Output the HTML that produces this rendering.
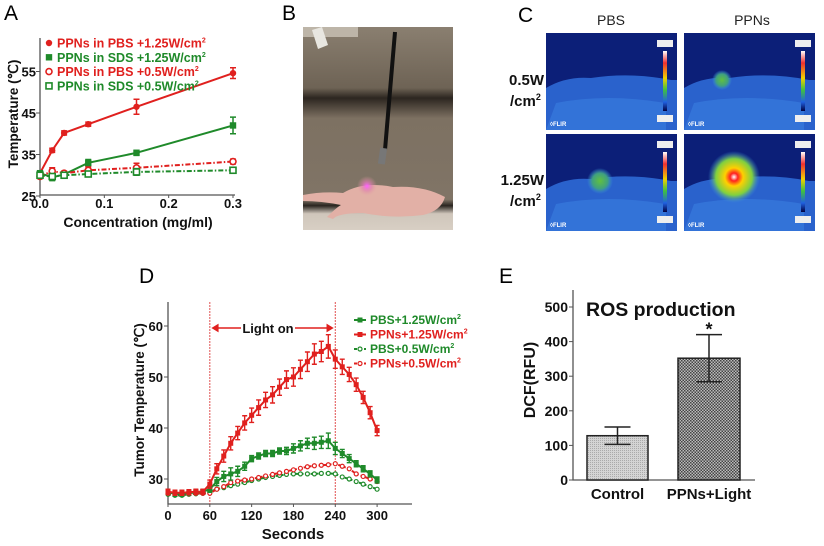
<!DOCTYPE html>
<html><head><meta charset="utf-8"><style>
html,body{margin:0;padding:0;background:#fff;width:824px;height:546px;overflow:hidden}
svg{display:block;font-family:"Liberation Sans",Arial,sans-serif;font-size:13px}
.t{font-weight:bold;fill:#111}
</style></head><body>
<svg id="fig" width="824" height="546" viewBox="0 0 824 546">
<defs>
<pattern id="chk" width="3" height="3" patternUnits="userSpaceOnUse"><rect width="3" height="3" fill="#bbb"/><rect width="1.5" height="1.5" fill="#444"/><rect x="1.5" y="1.5" width="1.5" height="1.5" fill="#444"/></pattern>
<pattern id="dots" width="2" height="2" patternUnits="userSpaceOnUse"><rect width="2" height="2" fill="#d4d4d4"/><rect width="1" height="1" fill="#aaa"/></pattern>
<linearGradient id="wall" x1="0" y1="0" x2="0" y2="1"><stop offset="0" stop-color="#8a7f70"/><stop offset="0.3" stop-color="#6e6355"/><stop offset="0.35" stop-color="#2c2620"/><stop offset="0.45" stop-color="#7d7162"/><stop offset="0.85" stop-color="#807466"/><stop offset="0.88" stop-color="#2a2520"/><stop offset="0.92" stop-color="#cfc6bb"/><stop offset="1" stop-color="#d8cfc4"/></linearGradient>
<radialGradient id="hot1"><stop offset="0" stop-color="#ffffff"/><stop offset="0.15" stop-color="#ff2020"/><stop offset="0.35" stop-color="#ffd000"/><stop offset="0.7" stop-color="#7fd040"/><stop offset="1" stop-color="#3a8ee0" stop-opacity="0"/></radialGradient>
<radialGradient id="warm"><stop offset="0" stop-color="#60c040"/><stop offset="0.6" stop-color="#40a080"/><stop offset="1" stop-color="#3a8ee0" stop-opacity="0"/></radialGradient>
<linearGradient id="cbar" x1="0" y1="0" x2="0" y2="1"><stop offset="0" stop-color="#fff"/><stop offset="0.2" stop-color="#f03030"/><stop offset="0.45" stop-color="#f0d000"/><stop offset="0.65" stop-color="#40c040"/><stop offset="0.85" stop-color="#2060e0"/><stop offset="1" stop-color="#000040"/></linearGradient>
<radialGradient id="pink"><stop offset="0" stop-color="#ff60ff"/><stop offset="0.5" stop-color="#e080b0" stop-opacity="0.6"/><stop offset="1" stop-color="#e0a0a0" stop-opacity="0"/></radialGradient>
</defs>
<g id="A"></g>
<g id="B"></g>
<g id="C"></g>
<g id="D"></g>
<g id="E"></g>
</svg>
<script>
// Panel A data
const concX = [0, 0.019, 0.0375, 0.075, 0.15, 0.3];
const aRedHigh = [30.5, 36, 40.2, 42.3, 46.5, 54.6];
const aRedHighErr = [0.5, 0.5, 0.5, 0.5, 1.8, 1.3];
const aGreenHigh = [30.5, 29.5, 30.2, 33, 35.4, 42];
const aGreenHighErr = [0.5, 0.8, 0.5, 0.8, 0.6, 2];
const aRedLow = [29.7, 31, 30.5, 31.2, 31.8, 33.3];
const aRedLowErr = [0.5, 0.8, 0.5, 0.8, 1.1, 0.6];
const aGreenLow = [30, 29.7, 30, 30.3, 30.8, 31.2];
const aGreenLowErr = [0.5, 0.5, 0.5, 0.5, 0.8, 0.5];
const aXTicks = [0, 0.1, 0.2, 0.3];
const aXTickLabels = ["0.0", "0.1", "0.2", "0.3"];
const aYTicks = [25, 35, 45, 55];
const aLegend = ["PPNs in PBS +1.25W/cm", "PPNs in SDS +1.25W/cm", "PPNs in PBS +0.5W/cm", "PPNs in SDS +0.5W/cm"];
// Panel D data
const dTime = [0,10,20,30,40,50,60,70,80,90,100,110,120,130,140,150,160,170,180,190,200,210,220,230,240,250,260,270,280,290,300];
const dRedHigh = [27.5,27.3,27.3,27.4,27.5,27.5,29,32,34.5,37,39,41,42.5,44,45.5,46.5,48,49.5,50,51.5,53,54.5,55,56,53.5,52,50.5,48.5,46,43,39.5];
const dRedHighErr = [0.5,0.5,0.5,0.5,0.5,0.5,0.8,1,1.2,1.3,1.3,1.4,1.4,1.5,1.5,1.6,1.6,1.7,1.8,1.8,1.9,2,2,2.3,1.8,1.5,1.4,1.3,1.2,1.2,1];
const dGreenHigh = [27.5,27,27,27.2,27.4,27.5,28,29.5,30.5,31,31.5,32.5,34,34.5,35,35,35.5,35.5,36,36.5,37,37,37.2,37.5,36,35,34,33,32,31,29.8];
const dGreenHighErr = [0.4,0.4,0.4,0.4,0.4,0.4,0.6,0.8,1,1.2,1,0.8,0.6,0.6,0.6,0.6,0.6,0.7,0.9,1,1,1.2,1.2,1.5,1.2,0.8,0.8,0.6,0.6,0.6,0.6];
const dRedLow = [27.2,27,27,27.1,27.2,27.2,27.2,28,28.5,29.3,29.6,29.8,30,30.3,30.6,30.9,31.2,31.5,31.8,32.1,32.4,32.6,32.7,32.8,33,32.5,32,31,30.5,30,29.5];
const dGreenLow = [27,26.8,26.8,27,27.1,27.2,27.5,28,28.3,28.7,29,29.3,29.7,30,30.3,30.5,30.7,30.9,31,31,31,31,31.1,31.1,31,30.4,30,29.5,29,28.5,28];
const dXTicks = [0,60,120,180,240,300];
const dYTicks = [30,40,50,60];
const dLegend = ["PBS+1.25W/cm", "PPNs+1.25W/cm", "PBS+0.5W/cm", "PPNs+0.5W/cm"];
// Panel E data
const eCats = ["Control", "PPNs+Light"];
const eVals = [128, 352];
const eErr = [25, 68];
const eYTicks = [0,100,200,300,400,500];

const NS = "http://www.w3.org/2000/svg";
function mk(tag, attrs, parent, txt){const e=document.createElementNS(NS,tag);for(const k in attrs)e.setAttribute(k,attrs[k]);if(txt!==undefined)e.textContent=txt;parent.appendChild(e);return e;}
const RED="#e0201e", GREEN="#1f8a2a";

function marker(g, kind, x, y, col){
  let m;
  if(kind==="circ") m=mk("circle",{cx:x,cy:y,r:3.2,fill:col},g);
  else if(kind==="sq") m=mk("rect",{x:x-3.2,y:y-3.2,width:6.4,height:6.4,fill:col},g);
  else if(kind==="ocirc") m=mk("circle",{cx:x,cy:y,r:3,fill:"#fff",stroke:col,"stroke-width":1.6},g);
  else m=mk("rect",{x:x-3,y:y-3,width:6,height:6,fill:"#fff",stroke:col,"stroke-width":1.6},g);
  return m;
}

// ---------- Panel A ----------
(function(){
  const g=document.getElementById("A");
  const X=v=>40+v/0.3*193, Y=v=>196-(v-25)*4.15;
  let t=mk("text",{x:4,y:20,"font-size":21},g,"A");
  
  
  let ax=mk("path",{d:"M40 38 V195 H235",fill:"none",stroke:"#555","stroke-width":1.3},g);
  
  
  aYTicks.forEach(v=>{mk("line",{x1:36,x2:40,y1:Y(v),y2:Y(v),stroke:"#555"},g);
    const l=mk("text",{x:36,y:Y(v)+5,"text-anchor":"end",class:"t","font-size":13},g,v);
    
    });
  aXTicks.forEach((v,i)=>{mk("line",{x1:X(v),x2:X(v),y1:195,y2:198,stroke:"#555"},g);
    const l=mk("text",{x:X(v),y:208,"text-anchor":"middle",class:"t","font-size":13},g,aXTickLabels[i]);
    
    });
  t=mk("text",{x:138,y:227,"text-anchor":"middle",class:"t","font-size":14},g,"Concentration (mg/ml)");
  
  
  t=mk("text",{transform:"translate(18,114) rotate(-90)","text-anchor":"middle",class:"t","font-size":13.5},g,"Temperature (℃)");
  
  
  const series=[[aRedHigh,aRedHighErr,RED,"circ",""],[aGreenHigh,aGreenHighErr,GREEN,"sq",""],[aRedLow,aRedLowErr,RED,"ocirc","5,2,1.5,2"],[aGreenLow,aGreenLowErr,GREEN,"osq","5,2,1.5,2"]];
  series.forEach((s,si)=>{
    const sg=mk("g",{},g);
    
    
    const pts=concX.map((c,i)=>X(c)+","+Y(s[0][i])).join(" ");
    const pl=mk("polyline",{points:pts,fill:"none",stroke:s[2],"stroke-width":2,"stroke-dasharray":s[4]},sg);
    
    
    concX.forEach((c,i)=>{
      const x=X(c),y1=Y(s[0][i]+s[1][i]),y2=Y(s[0][i]-s[1][i]);
      mk("path",{d:`M${x} ${y1}V${y2}M${x-3} ${y1}H${x+3}M${x-3} ${y2}H${x+3}`,stroke:s[2],"stroke-width":1.5},sg);
      const m=marker(sg,s[3],x,Y(s[0][i]),s[2]);
      
      
    });
    const ly=43+si*14.3;
    const lm=marker(sg,s[3],49,ly,s[2]);
    
    
    const lt=mk("text",{x:57,y:ly+4.5,fill:s[2],"font-weight":"bold","font-size":12.5},sg,aLegend[si]);
    mk("tspan",{dy:-5,"font-size":7},lt,"2");
    
    
  });
})();

// ---------- Panel B (photo) ----------
(function(){
  const g=document.getElementById("B");
  let t=mk("text",{x:282,y:20,"font-size":21},g,"B");
  
  
  let r=mk("rect",{x:303,y:27,width:150,height:203,fill:"url(#wall)"},g);
  
  
  mk("path",{d:"M303 27 h55 v10 h-55z",fill:"#bdb5a8"},g);
  mk("path",{d:"M312 30 l10 -3 l6 18 l-10 4z",fill:"#e8e6e0"},g);
  mk("path",{d:"M395 32 L385 150",stroke:"#111","stroke-width":4,fill:"none"},g);
  mk("rect",{x:379,y:148,width:7,height:16,fill:"#777",transform:"rotate(8 382 156)"},g);
  mk("path",{d:"M303 195 q20 -4 40 -2 q20 -12 50 -6 q30 -2 52 10 q-4 14 -22 18 q-30 4 -60 -2 q-25 0 -30 6 l-6 -2 q10 -10 14 -12 q-20 -4 -38 -4z",fill:"#e2b0a6"},g);
  mk("circle",{cx:367,cy:186,r:10,fill:"url(#pink)"},g);
})();

// ---------- Panel C (thermal) ----------
(function(){
  const g=document.getElementById("C");
  let t=mk("text",{x:518,y:22,"font-size":21},g,"C");
  
  
  [["PBS",611],["PPNs",752]].forEach(c=>{const l=mk("text",{x:c[1],y:25,"text-anchor":"middle","font-size":14,fill:"#222"},g,c[0]);
    
    });
  [[85,"0.5W"],[185,"1.25W"]].forEach(r=>{
    const l=mk("text",{x:544,y:r[0],"text-anchor":"end",class:"t","font-size":15},g,r[1]);
    
    
    const l2=mk("text",{x:510,y:r[0]+21,class:"t","font-size":15},g,"/cm");
    mk("tspan",{dy:-6,"font-size":9},l2,"2");
  });
  const cells=[[546,33,null],[684,33,"warm",722,80,10],[546,134,"warm",600,181,13],[684,134,"hot1",734,177,26]];
  cells.forEach((c,i)=>{
    const cg=mk("g",{},g);
    
    
    mk("rect",{x:c[0],y:c[1],width:131,height:97,fill:"#0c1f78"},cg);
    const bx=c[0],by=c[1];
    mk("path",{d:`M${bx} ${by+55} q20 -12 45 -10 q40 -6 80 2 l6 0 v50 h-131z`,fill:"#2a62cc"},cg);
    mk("path",{d:`M${bx+10} ${by+70} q50 -10 110 0 v27 h-120z`,fill:"#3a7ee0",opacity:0.6},cg);
    if(c[2]) mk("circle",{cx:c[3],cy:c[4],r:c[5],fill:`url(#${c[2]})`},cg);
    mk("rect",{x:bx+117,y:by+18,width:4,height:60,fill:"url(#cbar)"},cg);
    mk("rect",{x:bx+111,y:by+7,width:16,height:7,fill:"#eee"},cg);
    mk("rect",{x:bx+111,y:by+82,width:16,height:7,fill:"#eee"},cg);
    mk("text",{x:bx+4,y:by+93,"font-size":6,"font-weight":"bold",fill:"#fff"},cg,"◊FLIR");
  });
})();

// ---------- Panel D ----------
(function(){
  const g=document.getElementById("D");
  const X=v=>168+v*0.697, Y=v=>479-(v-30)*5.1;
  let t=mk("text",{x:139,y:283,"font-size":21},g,"D");
  
  
  let ax=mk("path",{d:"M168 302 V504 H412",fill:"none",stroke:"#555","stroke-width":1.3},g);
  
  
  dYTicks.forEach(v=>{mk("line",{x1:164,x2:168,y1:Y(v),y2:Y(v),stroke:"#555"},g);
    const l=mk("text",{x:163,y:Y(v)+5,"text-anchor":"end",class:"t","font-size":13},g,v);
    
    });
  dXTicks.forEach(v=>{mk("line",{x1:X(v),x2:X(v),y1:504,y2:507,stroke:"#555"},g);
    const l=mk("text",{x:X(v),y:520,"text-anchor":"middle",class:"t","font-size":13},g,v);
    
    });
  t=mk("text",{x:293,y:539,"text-anchor":"middle",class:"t","font-size":15},g,"Seconds");
  
  
  t=mk("text",{transform:"translate(144,400) rotate(-90)","text-anchor":"middle",class:"t","font-size":13.5},g,"Tumor Temperature (℃)");
  
  
  [60,240].forEach(v=>{const l=mk("line",{x1:X(v),x2:X(v),y1:302,y2:504,stroke:"#e05050","stroke-width":1,"stroke-dasharray":"2,1"},g);
    
    });
  const ar=mk("path",{d:`M${X(60)+3} 328 H241 M295 328 H${X(240)-3} M${X(60)+3} 328 l5 -3 v6z M${X(240)-3} 328 l-5 -3 v6z`,stroke:RED,"stroke-width":1.5,fill:RED},g);
  
  
  t=mk("text",{x:268,y:333,"text-anchor":"middle",class:"t","font-size":13},g,"Light on");
  
  
  const series=[[dGreenLow,null,GREEN,"ocirc","3,2"],[dRedLow,null,RED,"osq","3,2"],[dGreenHigh,dGreenHighErr,GREEN,"sq",""],[dRedHigh,dRedHighErr,RED,"circ",""]];
  const legOrder=[2,3,0,1];
  series.forEach((s,si)=>{
    const sg=mk("g",{},g);
    
    
    const pl=mk("polyline",{points:dTime.map((tt,i)=>X(tt)+","+Y(s[0][i])).join(" "),fill:"none",stroke:s[2],"stroke-width":2,"stroke-dasharray":s[4]},sg);
    
    
    dTime.forEach((tt,i)=>{
      const x=X(tt),y=Y(s[0][i]);
      if(s[1]){const y1=Y(s[0][i]+s[1][i]),y2=Y(s[0][i]-s[1][i]);
        mk("path",{d:`M${x} ${y1}V${y2}M${x-2.5} ${y1}H${x+2.5}M${x-2.5} ${y2}H${x+2.5}`,stroke:s[2],"stroke-width":1.4},sg);}
      let m;
      if(s[3]==="circ"||s[3]==="sq") m=mk("rect",{x:x-2.5,y:y-2.5,width:5,height:5,fill:s[2]},sg);
      else m=mk("circle",{cx:x,cy:y,r:2,fill:"#fff",stroke:s[2],"stroke-width":1.2},sg);
      
      
    });
  });
  dLegend.forEach((name,i)=>{
    const s=series[legOrder[i]], ly=320+i*14.5;
    const lg=mk("g",{},g);
    
    
    mk("line",{x1:354,x2:366,y1:ly,y2:ly,stroke:s[2],"stroke-width":2,"stroke-dasharray":s[4]},lg);
    if(s[1]) mk("rect",{x:357.5,y:ly-2.5,width:5,height:5,fill:s[2]},lg);
    else mk("circle",{cx:360,cy:ly,r:2,fill:"#fff",stroke:s[2],"stroke-width":1.2},lg);
    const lt=mk("text",{x:370,y:ly+4,fill:s[2],"font-weight":"bold","font-size":12},lg,name);
    mk("tspan",{dy:-5,"font-size":7},lt,"2");
  });
})();

// ---------- Panel E ----------
(function(){
  const g=document.getElementById("E");
  const Y=v=>480-v*0.346;
  const barX=[587,678], barW=[61,62];
  let t=mk("text",{x:499,y:283,"font-size":21},g,"E");
  
  
  let ax=mk("path",{d:"M573 290 V480 H755",fill:"none",stroke:"#555","stroke-width":1.3},g);
  
  
  eYTicks.forEach(v=>{mk("line",{x1:569,x2:573,y1:Y(v),y2:Y(v),stroke:"#555"},g);
    const l=mk("text",{x:568,y:Y(v)+5,"text-anchor":"end",class:"t","font-size":14},g,v);
    
    });
  t=mk("text",{transform:"translate(535,380) rotate(-90)","text-anchor":"middle",class:"t","font-size":16},g,"DCF(RFU)");
  
  
  t=mk("text",{x:586,y:316,class:"t","font-size":19.5},g,"ROS production");
  
  
  eCats.forEach((c,i)=>{
    const x=barX[i],w=barW[i],cx=x+w/2;
    const b=mk("rect",{x:x,y:Y(eVals[i]),width:w,height:480-Y(eVals[i]),fill:i?"url(#chk)":"url(#dots)",stroke:"#222","stroke-width":1.5},g);
    
    
    const y1=Y(eVals[i]+eErr[i]),y2=Y(eVals[i]-eErr[i]);
    const eb=mk("path",{d:`M${cx} ${y1}V${y2}M${cx-13} ${y1}H${cx+13}M${cx-13} ${y2}H${cx+13}`,stroke:"#222","stroke-width":1.5,fill:"none"},g);
    
    
    const l=mk("text",{x:cx,y:499,"text-anchor":"middle",class:"t","font-size":15},g,c);
    
    
    if(i===1){const s=mk("text",{x:cx,y:y1+1,"text-anchor":"middle",class:"t","font-size":18},g,"*");
      
      }
  });
})();
</script>
</body></html>
